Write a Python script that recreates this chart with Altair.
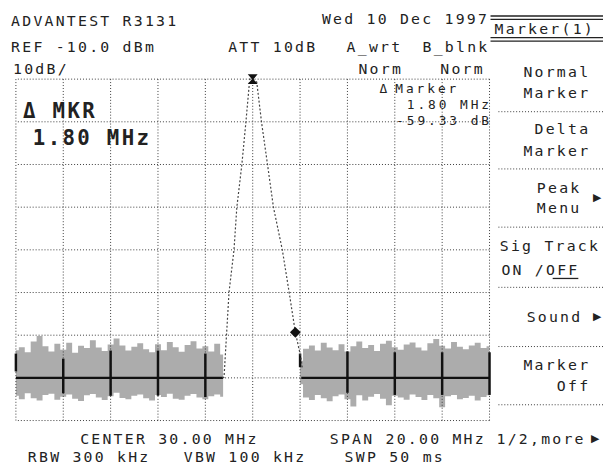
import altair as alt
import pandas as pd

# ---------------- data ----------------
grid_freqs = [20, 22, 24, 26, 28, 30, 32, 34, 36, 38, 40]          # MHz
grid_levels = [-10, -20, -30, -40, -50, -60, -70, -80, -90]        # dBm

# peak trace (MHz, dBm)
peak_f = [28.72, 28.79, 29.00, 29.21, 29.33, 29.54, 29.71, 29.875, 30.0,
          30.17, 30.375, 30.625, 30.875, 31.25, 31.54, 31.80, 32.04, 32.10]
peak_db = [-80.0, -79.8, -59.9, -50.0, -40.0, -30.1, -20.2, -10.0, -10.0,
           -10.7, -20.2, -30.0, -40.0, -50.0, -60.0, -69.3, -75.4, -78.0]

# noise floor envelope, left part 20.00 .. 28.75 MHz (0.25 MHz steps)
noise_left_f = [20.0 + 0.25 * i for i in range(36)]
noise_left_hi = [-73.5, -72.8, -74.0, -71.5, -70.2, -72.6, -73.8, -72.0, -73.4, -71.8,
                 -74.1, -72.5, -73.0, -71.2, -72.9, -73.7, -72.2, -70.8, -72.4, -73.6,
                 -72.7, -71.9, -73.3, -74.0, -72.1, -73.5, -71.6, -72.8, -73.9, -72.3,
                 -71.4, -73.1, -72.6, -73.8, -72.0, -74.5]
noise_left_lo = [-84.2, -85.0, -83.6, -84.8, -85.3, -84.0, -83.7, -85.1, -84.4, -83.9,
                 -84.9, -85.4, -84.1, -83.8, -84.6, -85.2, -84.3, -83.5, -84.7, -85.0,
                 -84.2, -83.9, -84.8, -85.3, -84.0, -84.5, -83.7, -84.9, -85.1, -84.2,
                 -83.8, -84.6, -85.0, -84.3, -83.9, -84.4]
# right part 32.00 .. 40.00 MHz
noise_right_f = [32.0 + 0.25 * i for i in range(33)]
noise_right_hi = [-76.0, -73.2, -72.4, -73.6, -71.8, -72.9, -73.5, -72.1, -73.8, -72.6,
                  -71.5, -73.0, -72.3, -73.7, -72.0, -71.3, -72.8, -73.4, -72.2, -71.7,
                  -72.9, -73.6, -71.9, -70.9, -72.5, -73.1, -71.6, -72.7, -73.3, -72.4,
                  -71.8, -73.0, -72.6]
noise_right_lo = [-81.5, -84.6, -85.2, -84.0, -84.8, -85.5, -84.3, -83.9, -85.0, -86.7,
                  -84.1, -85.3, -84.4, -83.8, -84.9, -86.4, -84.2, -84.6, -85.1, -83.9,
                  -84.5, -85.2, -84.0, -84.8, -86.9, -84.3, -84.0, -85.0, -84.7, -84.2,
                  -85.3, -84.5, -84.1]

# dark graticule segments inside the noise band
seg_f = [20, 22, 24, 26, 28, 32, 34, 36, 38, 40]
seg_top = [-74.3, -75.5, -73.6, -73.6, -74.3, -74.3, -73.8, -74.0, -74.0, -74.0]
seg_bot = [-78.5, -83.6, -84.2, -84.2, -84.5, -77.5, -83.5, -84.0, -84.0, -84.0]

marker_peak = (30.0, -10.0)
marker_delta = (31.80, -69.33)

# ---------------- layout helpers ----------------
PX0, PY0 = 16, 77          # page position of plot origin
W, H = 480, 346

def rows_for(lines, cell):
    out = []
    for text, edge, y, align in lines:
        left = edge if align == "left" else edge - cell * len(text)
        for i, ch in enumerate(text):
            if ch != " ":
                out.append({"ch": ch, "px": left + cell * (i + 0.5) - PX0, "py": y - PY0})
    return pd.DataFrame(out)

small_lines = [
    ("ADVANTEST R3131", 10, 18, "left"), ("Wed 10 Dec 1997", 325, 16, "left"),
    ("REF -10.0 dBm", 10, 44, "left"), ("ATT 10dB", 230, 44, "left"),
    ("A_wrt", 350, 44, "left"), ("B_blnk", 427, 44, "left"),
    ("10dB/", 12, 67, "left"), ("Norm", 362, 67, "left"), ("Norm", 445, 67, "left"),
    ("Marker(1)", 500, 26, "left"),
    ("Normal", 597, 70, "right"), ("Marker", 597, 91, "right"),
    ("Delta", 597, 128, "right"), ("Marker", 597, 150, "right"),
    ("Peak", 588, 187, "right"), ("Menu", 588, 208, "right"),
    ("Sig Track", 607, 246, "right"), ("ON /OFF", 586, 270, "right"),
    ("Sound", 589, 318, "right"), ("Marker", 597, 367, "right"), ("Off", 597, 388, "right"),
    ("CENTER 30.00 MHz", 80, 442, "left"), ("SPAN 20.00 MHz", 333, 442, "left"),
    ("1/2,more", 502, 442, "left"),
    ("RBW 300 kHz", 27, 460, "left"), ("VBW 100 kHz", 185, 460, "left"),
    ("SWP 50 ms", 348, 460, "left"),
]
readout_lines = [("Δ", 383, 87, "left"), ("Marker", 399, 87, "left"),
                 ("1.80 MHz", 497, 103, "right"), ("-59.33 dB", 497, 119, "right")]
big_lines = [("Δ MKR", 22, 110, "left"), ("1.80 MHz", 32, 138, "left")]
arrow_pos = [(605, 198), (605, 318), (603, 442)]

sep_rows = pd.DataFrame([{"x": 505 - PX0, "x2": 611 - PX0, "y": y - PY0}
                         for y in [110, 168, 227, 288, 348, 407]])
box_rows = pd.DataFrame([{"x": 497 - PX0, "x2": 611 - PX0, "y": y - PY0}
                         for y in [13, 16.5, 35, 38.5]] +
                        [{"x": 560 - PX0, "x2": 586 - PX0, "y": 279 - PY0}])

# ---------------- chart ----------------
xs = alt.Scale(domain=[20, 40], nice=False, zero=False)
ys = alt.Scale(domain=[-90, -10], nice=False, zero=False)
FONT = "DejaVu Sans Mono"
INK = "#222222"
GRID = "#3a3a3a"

grid_v = alt.Chart(pd.DataFrame({"f": grid_freqs})).mark_rule(
    color=GRID, strokeDash=[1, 2], strokeWidth=1).encode(
    x=alt.X("f:Q", scale=xs, axis=None))
grid_h = alt.Chart(pd.DataFrame({"l": grid_levels})).mark_rule(
    color=GRID, strokeDash=[1, 2], strokeWidth=1).encode(
    y=alt.Y("l:Q", scale=ys, axis=None))

noise_df = pd.concat([
    pd.DataFrame({"f": noise_left_f, "hi": noise_left_hi, "lo": noise_left_lo, "side": "L"}),
    pd.DataFrame({"f": noise_right_f, "hi": noise_right_hi, "lo": noise_right_lo, "side": "R"}),
])
noise = alt.Chart(noise_df).mark_area(interpolate="step", color="#a3a3a3", opacity=0.9).encode(
    x=alt.X("f:Q", scale=xs, axis=None), y=alt.Y("hi:Q", scale=ys, axis=None), y2="lo:Q",
    detail="side:N")

thick_h = alt.Chart(pd.DataFrame({"f": [20, 32.05], "f2": [28.75, 40], "l": [-80, -80]})).mark_rule(
    color="#111", strokeWidth=2.5).encode(
    x=alt.X("f:Q", scale=xs, axis=None), x2="f2:Q", y=alt.Y("l:Q", scale=ys, axis=None))
thick_v = alt.Chart(pd.DataFrame({"f": seg_f, "t": seg_top, "b": seg_bot})).mark_rule(
    color="#111", strokeWidth=2.5).encode(
    x=alt.X("f:Q", scale=xs, axis=None), y=alt.Y("t:Q", scale=ys, axis=None), y2="b:Q")

trace = alt.Chart(pd.DataFrame({"f": peak_f, "d": peak_db})).mark_line(
    color="#444", strokeWidth=1.2, strokeDash=[2, 2]).encode(
    x=alt.X("f:Q", scale=xs, axis=None), y=alt.Y("d:Q", scale=ys, axis=None))

mk1 = alt.Chart(pd.DataFrame({"f": [marker_peak[0]], "d": [marker_peak[1]]})).mark_point(
    shape="M-1,-1L1,-1L0.15,0L1,1L-1,1L-0.15,0Z", filled=True, color="#111", size=100, opacity=1).encode(
    x=alt.X("f:Q", scale=xs, axis=None), y=alt.Y("d:Q", scale=ys, axis=None))
mk2 = alt.Chart(pd.DataFrame({"f": [marker_delta[0]], "d": [marker_delta[1]]})).mark_point(
    shape="diamond", filled=True, color="#111", size=120, opacity=1).encode(
    x=alt.X("f:Q", scale=xs, axis=None), y=alt.Y("d:Q", scale=ys, axis=None))

def text_layer(df, size, weight="normal"):
    return alt.Chart(df).mark_text(font=FONT, fontSize=size, fontWeight=weight, color=INK,
                                   align="center", baseline="middle").encode(
        x=alt.X("px:Q", scale=None), y=alt.Y("py:Q", scale=None), text="ch:N")

small_txt = text_layer(rows_for(small_lines, 11.3), 15)
readout_txt = text_layer(rows_for(readout_lines, 10.8), 13)
big_txt = text_layer(rows_for(big_lines, 15.0), 21, "bold")
arrows = alt.Chart(pd.DataFrame([{"ch": "▶", "px": x - PX0, "py": y - PY0} for x, y in arrow_pos])).mark_text(
    font="DejaVu Sans", fontSize=11, color=INK, align="center", baseline="middle").encode(
    x=alt.X("px:Q", scale=None), y=alt.Y("py:Q", scale=None), text="ch:N")

seps = alt.Chart(sep_rows).mark_rule(color=GRID, strokeDash=[1, 2]).encode(
    x=alt.X("x:Q", scale=None), x2="x2:Q", y=alt.Y("y:Q", scale=None))
box = alt.Chart(box_rows).mark_rule(color="#222", strokeWidth=1.3).encode(
    x=alt.X("x:Q", scale=None), x2="x2:Q", y=alt.Y("y:Q", scale=None))

chart = alt.layer(
    noise, grid_v, grid_h, thick_h, thick_v, trace, mk1, mk2,
    seps, box, small_txt, readout_txt, big_txt, arrows
).properties(
    width=W, height=H,
    padding={"left": 8, "top": 69, "right": 115, "bottom": 45},
    autosize=alt.AutoSizeParams(type="none"),
    background="white",
).configure_view(stroke=None)

chart.save("out.html", embed_options={"renderer": "svg", "actions": False})
